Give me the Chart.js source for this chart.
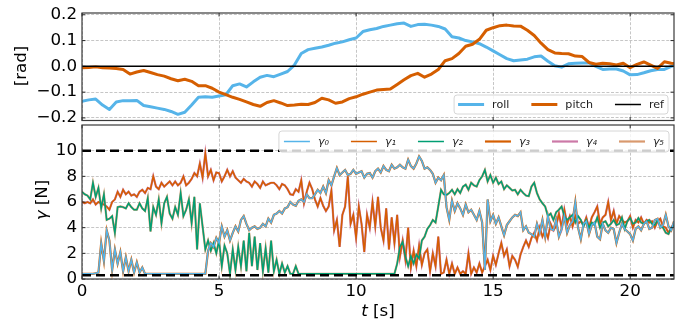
<!DOCTYPE html>
<html>
<head>
<meta charset="utf-8">
<script src="https://cdn.jsdelivr.net/npm/chart.js@4.4.1/dist/chart.umd.min.js"></script>
<style>
  body { margin: 0; background: #fff; }
  #wrap { position: relative; width: 691px; height: 325px; }
  #top { position: absolute; left: 0; top: 0; }
  #bot { position: absolute; left: 0; top: 124px; }
</style>
</head>
<body>
<div id="wrap">
  <canvas id="top" width="691" height="124" style="width:691px;height:124px"></canvas>
  <canvas id="bot" width="691" height="201" style="width:691px;height:201px"></canvas>
</div>
<script>
// ---- data ----
const tMax = 21.6;

// body angles [rad], sampled every 0.25 s
const angleStep = 0.25;
const roll = [
  -0.135, -0.13, -0.127, -0.15,
  -0.167, -0.138, -0.133, -0.133,
  -0.132, -0.152, -0.157, -0.162,
  -0.167, -0.175, -0.186, -0.178,
  -0.15, -0.12, -0.118, -0.12,
  -0.115, -0.11, -0.075, -0.068,
  -0.08, -0.06, -0.042, -0.035,
  -0.04, -0.03, -0.02, 0.005,
  0.05, 0.065, 0.07, 0.075,
  0.082, 0.09, 0.095, 0.103,
  0.11, 0.135, 0.142, 0.147,
  0.155, 0.16, 0.165, 0.168,
  0.155, 0.162, 0.163, 0.16,
  0.155, 0.145, 0.115, 0.11,
  0.1, 0.095, 0.088, 0.075,
  0.06, 0.045, 0.03, 0.022,
  0.025, 0.028, 0.037, 0.04,
  0.02, 0.002, -0.003, 0.01,
  0.012, 0.013, 0.013, 0.0,
  -0.012, -0.01, -0.01, -0.018,
  -0.033, -0.032, -0.025, -0.017,
  -0.012, -0.012, 0.0, 0.005
];
const pitch = [
  -0.005, -0.004, -0.002, -0.005,
  -0.006, -0.008, -0.012, -0.03,
  -0.022, -0.016, -0.024, -0.032,
  -0.038, -0.048, -0.056, -0.05,
  -0.058, -0.075, -0.075, -0.085,
  -0.1, -0.11, -0.12, -0.128,
  -0.138, -0.148, -0.155, -0.14,
  -0.133, -0.142, -0.152, -0.15,
  -0.147, -0.148, -0.14, -0.124,
  -0.13, -0.143, -0.138, -0.125,
  -0.118, -0.108, -0.1, -0.092,
  -0.09, -0.088, -0.07, -0.052,
  -0.036, -0.027, -0.042, -0.03,
  -0.012, 0.022, 0.03, 0.05,
  0.078, 0.086, 0.105, 0.14,
  0.15, 0.158, 0.16, 0.157,
  0.156, 0.14, 0.12, 0.09,
  0.065, 0.052, 0.05, 0.049,
  0.04, 0.038, 0.015, 0.008,
  0.012, 0.01, 0.005, 0.012,
  -0.005, 0.008, 0.017, 0.005,
  -0.008, 0.018, 0.012, 0.01
];
const refLevel = 0;

// contact forces [N], sampled every 0.1 s (one row per second)
const forceStep = 0.1;
const gamma0 = [
  0.4, 0.4, 0.4, 0.4, 0.4, 0.45, 0.5, 2.8, 1.4, 3.8,
  3.0, 0.7, 2.3, 1.2, 2.1, 0.6, 1.7, 0.6, 1.5, 0.5,
  1.3, 0.5, 0.9, 0.4, 0.4, 0.4, 0.4, 0.4, 0.4, 0.4,
  0.4, 0.4, 0.4, 0.4, 0.4, 0.4, 0.4, 0.4, 0.4, 0.4,
  0.4, 0.4, 0.4, 0.4, 0.4, 0.4, 2.2, 2.8, 2.5, 3.2,
  2.8, 4.1, 3.3, 3.8, 3.0, 3.6, 4.1, 3.7, 4.6, 4.9,
  4.3, 3.8, 4.0, 4.1, 3.9, 4.0, 4.3, 4.1, 4.7, 4.4,
  5.0, 5.1, 5.3, 5.1, 5.5, 5.6, 6.0, 5.8, 5.7, 6.1,
  6.2, 6.0, 6.6, 6.3, 6.3, 6.6, 6.95, 6.7, 7.2, 6.7,
  7.7, 7.3, 8.0, 8.65, 8.1, 8.3, 8.5, 8.1, 8.2, 8.5,
  8.2, 8.3, 8.4, 7.9, 8.2, 8.25, 7.9, 8.4, 8.6, 8.3,
  8.8, 8.5, 8.4, 8.9, 8.6, 8.7, 8.9, 8.7, 8.6, 9.3,
  8.8, 8.6, 9.0, 9.55, 9.2, 8.6, 8.7, 8.5, 8.2, 7.5,
  7.9, 7.7, 8.1, 5.6, 4.6, 6.1, 5.3, 5.9, 5.5, 5.0,
  5.8, 5.2, 5.4, 5.0, 4.6, 5.3, 4.4, 0.7, 6.2, 4.5,
  5.0, 4.3, 4.8, 4.1, 3.4, 4.2, 4.5, 4.8, 5.0, 4.9,
  5.2, 3.8, 4.1, 3.6, 3.5, 3.3, 4.3, 3.6, 4.6, 3.3,
  4.9, 3.9, 3.8, 4.6, 3.3, 3.9, 4.9, 3.6, 4.2, 4.5,
  6.0, 4.0, 3.1, 4.3, 4.5, 3.5, 4.2, 4.4, 3.3, 3.1,
  4.3, 3.8, 3.6, 4.0, 3.9, 2.8, 3.6, 4.3, 3.9, 3.7,
  3.5, 3.0, 3.9, 4.1, 3.8, 4.3, 4.5, 3.9, 4.0, 4.6,
  4.7, 4.0, 4.2, 5.0, 4.1, 3.8, 4.5
];
const gamma1 = [
  6.0, 5.9, 6.0, 5.9, 6.2, 5.8, 6.0, 5.9, 5.8, 5.65,
  5.4, 6.0, 6.2, 6.8, 6.4, 6.95, 6.6, 6.8, 6.5, 6.6,
  6.4, 6.8, 6.95, 6.7, 7.1, 7.0, 8.0, 7.2, 7.0, 7.5,
  7.2, 7.4, 7.6, 7.3, 7.6, 7.3, 7.5, 8.0, 7.3, 7.5,
  7.8, 8.25, 8.0, 9.0, 7.9, 9.8, 8.0, 8.5, 7.7, 8.3,
  8.25, 7.6, 8.0, 8.5, 8.0, 8.4, 7.9, 7.7, 7.5, 7.8,
  7.6, 7.5, 7.2, 7.6, 7.4, 7.1, 7.6, 7.3, 7.4, 7.5,
  7.5, 7.3, 7.0, 7.4, 7.3, 7.0, 6.6, 6.55, 7.0, 6.8,
  7.7, 5.9, 6.8, 7.5, 7.0, 6.2, 5.65, 6.3, 5.7, 5.3,
  5.65, 6.9, 3.8, 4.6, 2.5, 5.0, 5.65, 8.0, 4.3, 5.0,
  3.2, 5.65, 4.3, 2.1, 5.0, 4.0, 6.0, 4.1, 6.4, 4.0,
  3.0, 5.5, 2.3, 4.8, 2.8, 5.0, 1.75, 3.0, 1.5, 4.0,
  0.9, 2.2, 1.0, 2.6, 1.1, 2.0, 2.3, 0.6, 2.0, 1.0,
  3.3, 0.4, 0.5, 1.5, 0.4, 1.2, 0.4, 0.9, 0.4, 0.6,
  0.4, 2.0, 0.4, 0.9, 0.5, 1.2, 0.5, 1.0, 1.5, 0.7,
  1.8, 1.1, 2.0, 2.8, 1.8, 2.3, 1.0, 1.8, 1.5, 0.95,
  1.9, 2.5, 3.0, 2.5, 3.2, 3.6, 3.0, 4.0, 3.3, 3.8,
  3.2, 4.3, 3.8, 4.1, 5.1, 4.0, 5.4, 4.3, 4.9, 4.1,
  4.9, 4.3, 4.5, 4.2, 4.8, 4.0, 4.8, 5.2, 5.65, 4.3,
  4.8, 5.0, 6.0, 4.6, 5.3, 4.3, 4.9, 4.6, 4.4, 4.5,
  4.9, 4.0, 4.6, 4.4, 4.8, 4.3, 4.6, 4.4, 4.5, 4.0,
  4.5, 4.7, 4.1, 4.0, 3.6, 4.0, 4.3
];
const gamma2 = [
  6.8, 6.6, 6.5, 6.2, 7.5, 6.4, 7.1, 5.5, 6.6, 4.6,
  4.7, 4.9, 3.6, 5.6, 5.65, 5.6, 5.5, 5.9, 5.6, 5.4,
  5.4, 5.9, 5.5, 5.3, 6.3, 3.7, 5.6, 5.0, 6.2, 4.35,
  5.9, 6.4, 5.1, 4.7, 5.6, 5.0, 6.7, 4.9, 5.4, 6.2,
  4.35, 6.4, 2.3, 5.9, 4.1, 2.3, 3.0, 2.2, 2.8, 2.0,
  3.0, 1.0, 2.6, 2.0, 0.4, 2.3, 0.7, 2.5, 1.0, 3.0,
  0.6, 3.6, 1.0, 3.3, 0.7, 2.8, 0.6, 2.4, 0.5, 3.0,
  0.6, 1.5, 0.4, 1.2, 0.5, 1.0, 0.4, 0.4, 1.0, 0.4,
  0.4, 0.4, 0.4, 0.4, 0.4, 0.4, 0.4, 0.4, 0.4, 0.4,
  0.4, 0.4, 0.4, 0.4, 0.4, 0.4, 0.4, 0.4, 0.4, 0.4,
  0.4, 0.4, 0.4, 0.4, 0.4, 0.4, 0.4, 0.4, 0.4, 0.4,
  0.4, 0.4, 0.4, 0.4, 0.4, 1.2, 2.5, 2.9, 1.75, 1.0,
  1.8, 1.2, 1.9, 1.6, 3.0, 3.3, 3.9, 4.2, 4.6, 4.4,
  5.65, 6.95, 6.6, 6.55, 6.7, 6.95, 6.6, 7.0, 6.7, 7.2,
  7.35, 6.95, 7.5, 7.3, 7.2, 7.7, 8.0, 8.5, 7.6, 8.1,
  7.5, 7.9, 7.4, 7.6, 7.0, 7.3, 7.1, 6.9, 6.95, 6.6,
  6.95, 6.7, 6.5, 6.45, 7.2, 7.5, 6.7, 6.2, 5.9, 5.65,
  4.9, 5.1, 4.6, 5.2, 5.4, 5.65, 4.9, 4.6, 4.8, 5.0,
  4.4, 4.9, 4.6, 4.1, 4.6, 4.0, 4.4, 4.2, 4.8, 4.0,
  4.4, 4.5, 4.1, 4.3, 4.6, 4.2, 4.3, 4.8, 3.9, 4.5,
  4.75, 4.3, 4.4, 4.75, 4.4, 4.3, 4.5, 4.6, 4.3, 4.2,
  4.6, 4.1, 4.0, 3.6, 3.5, 4.0, 4.2
];
// the other three traces lie almost exactly under the first three
const gamma3 = [
  0.4, 0.4, 0.4, 0.4, 0.4, 0.45, 0.5, 2.8, 1.4, 3.8,
  3.0, 0.7, 2.3, 1.2, 2.1, 0.6, 1.7, 0.6, 1.5, 0.5,
  1.3, 0.5, 0.9, 0.4, 0.4, 0.4, 0.4, 0.4, 0.4, 0.4,
  0.4, 0.4, 0.4, 0.4, 0.4, 0.4, 0.4, 0.4, 0.4, 0.4,
  0.4, 0.4, 0.4, 0.4, 0.4, 0.4, 2.2, 2.8, 2.5, 3.2,
  2.8, 4.1, 3.3, 3.8, 3.0, 3.6, 4.1, 3.7, 4.6, 4.9,
  4.3, 3.8, 4.0, 4.1, 3.9, 4.0, 4.3, 4.1, 4.7, 4.4,
  5.0, 5.1, 5.3, 5.1, 5.5, 5.6, 6.0, 5.8, 5.7, 6.1,
  6.2, 6.0, 6.6, 6.3, 6.3, 6.6, 6.95, 6.7, 7.2, 6.7,
  7.7, 7.3, 8.0, 8.65, 8.1, 8.3, 8.5, 8.1, 8.2, 8.5,
  8.2, 8.3, 8.4, 7.9, 8.2, 8.25, 7.9, 8.4, 8.6, 8.3,
  8.8, 8.5, 8.4, 8.9, 8.6, 8.7, 8.9, 8.7, 8.6, 9.3,
  8.8, 8.6, 9.0, 9.55, 9.2, 8.6, 8.7, 8.5, 8.2, 7.5,
  7.9, 7.7, 8.1, 5.6, 4.6, 6.1, 5.3, 5.9, 5.5, 5.0,
  5.8, 5.2, 5.4, 5.0, 4.6, 5.3, 4.4, 0.7, 6.2, 4.5,
  5.0, 4.3, 4.8, 4.1, 3.4, 4.2, 4.5, 4.8, 5.0, 4.9,
  5.2, 3.8, 4.1, 3.6, 3.5, 3.3, 4.3, 3.6, 4.6, 3.3,
  4.9, 3.9, 3.8, 4.6, 3.3, 3.9, 4.9, 3.6, 4.2, 4.5,
  6.0, 4.0, 3.1, 4.3, 4.5, 3.5, 4.2, 4.4, 3.3, 3.1,
  4.3, 3.8, 3.6, 4.0, 3.9, 2.8, 3.6, 4.3, 3.9, 3.7,
  3.5, 3.0, 3.9, 4.1, 3.8, 4.3, 4.5, 3.9, 4.0, 4.6,
  4.7, 4.0, 4.2, 5.0, 4.1, 3.8, 4.5
];
const gamma4 = [
  6.0, 5.9, 6.0, 5.9, 6.2, 5.8, 6.0, 5.9, 5.8, 5.65,
  5.4, 6.0, 6.2, 6.8, 6.4, 6.95, 6.6, 6.8, 6.5, 6.6,
  6.4, 6.8, 6.95, 6.7, 7.1, 7.0, 8.0, 7.2, 7.0, 7.5,
  7.2, 7.4, 7.6, 7.3, 7.6, 7.3, 7.5, 8.0, 7.3, 7.5,
  7.8, 8.25, 8.0, 9.0, 7.9, 9.8, 8.0, 8.5, 7.7, 8.3,
  8.25, 7.6, 8.0, 8.5, 8.0, 8.4, 7.9, 7.7, 7.5, 7.8,
  7.6, 7.5, 7.2, 7.6, 7.4, 7.1, 7.6, 7.3, 7.4, 7.5,
  7.5, 7.3, 7.0, 7.4, 7.3, 7.0, 6.6, 6.55, 7.0, 6.8,
  7.7, 5.9, 6.8, 7.5, 7.0, 6.2, 5.65, 6.3, 5.7, 5.3,
  5.65, 6.9, 3.8, 4.6, 2.5, 5.0, 5.65, 8.0, 4.3, 5.0,
  3.2, 5.65, 4.3, 2.1, 5.0, 4.0, 6.0, 4.1, 6.4, 4.0,
  3.0, 5.5, 2.3, 4.8, 2.8, 5.0, 1.75, 3.0, 1.5, 4.0,
  0.9, 2.2, 1.0, 2.6, 1.1, 2.0, 2.3, 0.6, 2.0, 1.0,
  3.3, 0.4, 0.5, 1.5, 0.4, 1.2, 0.4, 0.9, 0.4, 0.6,
  0.4, 2.0, 0.4, 0.9, 0.5, 1.2, 0.5, 1.0, 1.5, 0.7,
  1.8, 1.1, 2.0, 2.8, 1.8, 2.3, 1.0, 1.8, 1.5, 0.95,
  1.9, 2.5, 3.0, 2.5, 3.2, 3.6, 3.0, 4.0, 3.3, 3.8,
  3.2, 4.3, 3.8, 4.1, 5.1, 4.0, 5.4, 4.3, 4.9, 4.1,
  4.9, 4.3, 4.5, 4.2, 4.8, 4.0, 4.8, 5.2, 5.65, 4.3,
  4.8, 5.0, 6.0, 4.6, 5.3, 4.3, 4.9, 4.6, 4.4, 4.5,
  4.9, 4.0, 4.6, 4.4, 4.8, 4.3, 4.6, 4.4, 4.5, 4.0,
  4.5, 4.7, 4.1, 4.0, 3.6, 4.0, 4.3
];
const gamma5 = [
  6.8, 6.6, 6.5, 6.2, 7.5, 6.4, 7.1, 5.5, 6.6, 4.6,
  4.7, 4.9, 3.6, 5.6, 5.65, 5.6, 5.5, 5.9, 5.6, 5.4,
  5.4, 5.9, 5.5, 5.3, 6.3, 3.7, 5.6, 5.0, 6.2, 4.35,
  5.9, 6.4, 5.1, 4.7, 5.6, 5.0, 6.7, 4.9, 5.4, 6.2,
  4.35, 6.4, 2.3, 5.9, 4.1, 2.3, 3.0, 2.2, 2.8, 2.0,
  3.0, 1.0, 2.6, 2.0, 0.4, 2.3, 0.7, 2.5, 1.0, 3.0,
  0.6, 3.6, 1.0, 3.3, 0.7, 2.8, 0.6, 2.4, 0.5, 3.0,
  0.6, 1.5, 0.4, 1.2, 0.5, 1.0, 0.4, 0.4, 1.0, 0.4,
  0.4, 0.4, 0.4, 0.4, 0.4, 0.4, 0.4, 0.4, 0.4, 0.4,
  0.4, 0.4, 0.4, 0.4, 0.4, 0.4, 0.4, 0.4, 0.4, 0.4,
  0.4, 0.4, 0.4, 0.4, 0.4, 0.4, 0.4, 0.4, 0.4, 0.4,
  0.4, 0.4, 0.4, 0.4, 0.4, 1.2, 2.5, 2.9, 1.75, 1.0,
  1.8, 1.2, 1.9, 1.6, 3.0, 3.3, 3.9, 4.2, 4.6, 4.4,
  5.65, 6.95, 6.6, 6.55, 6.7, 6.95, 6.6, 7.0, 6.7, 7.2,
  7.35, 6.95, 7.5, 7.3, 7.2, 7.7, 8.0, 8.5, 7.6, 8.1,
  7.5, 7.9, 7.4, 7.6, 7.0, 7.3, 7.1, 6.9, 6.95, 6.6,
  6.95, 6.7, 6.5, 6.45, 7.2, 7.5, 6.7, 6.2, 5.9, 5.65,
  4.9, 5.1, 4.6, 5.2, 5.4, 5.65, 4.9, 4.6, 4.8, 5.0,
  4.4, 4.9, 4.6, 4.1, 4.6, 4.0, 4.4, 4.2, 4.8, 4.0,
  4.4, 4.5, 4.1, 4.3, 4.6, 4.2, 4.3, 4.8, 3.9, 4.5,
  4.75, 4.3, 4.4, 4.75, 4.4, 4.3, 4.5, 4.6, 4.3, 4.2,
  4.6, 4.1, 4.0, 3.6, 3.5, 4.0, 4.2
];
const forceMax = 10;
const forceMin = 0.3;

const timeTicks = [0, 5, 10, 15, 20];
const angleTicks = [-0.2, -0.1, 0, 0.1, 0.2];
const forceTicks = [0, 2, 4, 6, 8, 10];

// ---- helpers ----
const FONT = "'DejaVu Sans', sans-serif";
const BLUE = '#56B4E9', VERM = '#D55E00', GREEN = '#009E73', PINK = '#CC79A7', TAN = '#D9996E';

const toPoints = (vals, step) => vals.map((v, i) => ({ x: Math.round(i * step * 100) / 100, y: v }));
const flat = (v) => [{ x: 0, y: v }, { x: tMax, y: v }];
const fmtAngle = (v) => (v < -1e-9 ? '\u2212' : '') + Math.abs(v).toFixed(1);

function gridOpts() {
  return { color: '#b8b8b8', lineWidth: 0.8, drawTicks: false };
}
function borderOpts() {
  return { display: false, dash: [3, 1.6] };
}

function roundRectPath(ctx, x, y, w, h, r) {
  ctx.beginPath();
  ctx.moveTo(x + r, y);
  ctx.lineTo(x + w - r, y);
  ctx.arcTo(x + w, y, x + w, y + r, r);
  ctx.lineTo(x + w, y + h - r);
  ctx.arcTo(x + w, y + h, x + w - r, y + h, r);
  ctx.lineTo(x + r, y + h);
  ctx.arcTo(x, y + h, x, y + h - r, r);
  ctx.lineTo(x, y + r);
  ctx.arcTo(x, y, x + r, y, r);
  ctx.closePath();
}

function drawLegend(ctx, chart, lg) {
  const items = chart.data.datasets.filter(d => d.label);
  ctx.save();
  ctx.font = lg.font;
  const widths = items.map(d => ctx.measureText(d.label).width);
  let w = lg.pad * 2;
  items.forEach((d, i) => { w += lg.handle + lg.gap + widths[i] + (i ? lg.col : 0); });
  const x0 = lg.right - w;
  roundRectPath(ctx, x0, lg.top, w, lg.height, 3);
  ctx.fillStyle = 'rgba(255,255,255,0.8)';
  ctx.fill();
  ctx.strokeStyle = '#d6d6d6';
  ctx.lineWidth = 1;
  ctx.stroke();
  const cy = lg.top + lg.height / 2;
  let x = x0 + lg.pad;
  ctx.textBaseline = 'middle';
  ctx.textAlign = 'left';
  items.forEach((d, i) => {
    ctx.strokeStyle = d.borderColor;
    ctx.lineWidth = d.borderWidth;
    ctx.setLineDash([]);
    ctx.beginPath();
    ctx.moveTo(x, cy);
    ctx.lineTo(x + lg.handle, cy);
    ctx.stroke();
    x += lg.handle + lg.gap;
    ctx.fillStyle = '#222';
    ctx.fillText(d.label, x, cy + 0.5);
    x += widths[i] + lg.col;
  });
  ctx.restore();
}

function drawTitle(ctx, t) {
  ctx.save();
  ctx.translate(t.x, t.y);
  if (t.rotate) ctx.rotate(-Math.PI / 2);
  ctx.fillStyle = '#000';
  ctx.textBaseline = 'middle';
  ctx.textAlign = 'left';
  const fonts = t.parts.map(p => (p.italic ? 'italic ' : '') + '16.7px ' + FONT);
  let total = 0;
  const ws = t.parts.map((p, i) => { ctx.font = fonts[i]; const w = ctx.measureText(p.text).width; total += w; return w; });
  let x = -total / 2;
  t.parts.forEach((p, i) => { ctx.font = fonts[i]; ctx.fillText(p.text, x, 0); x += ws[i]; });
  ctx.restore();
}

function decor(opts) {
  return {
    id: 'decor_' + opts.name,
    afterDatasetsDraw(chart) {
      const { ctx, chartArea: a, scales } = chart;
      ctx.save();
      ctx.setLineDash([]);
      ctx.strokeStyle = '#000';
      ctx.lineWidth = 0.8;
      ctx.beginPath();
      timeTicks.forEach(v => {
        const px = scales.x.getPixelForValue(v);
        ctx.moveTo(px, a.bottom); ctx.lineTo(px, a.bottom - 3.5);
        ctx.moveTo(px, a.top); ctx.lineTo(px, a.top + 3.5);
      });
      opts.yTicks.forEach(v => {
        const py = scales.y.getPixelForValue(v);
        ctx.moveTo(a.left, py); ctx.lineTo(a.left + 3.5, py);
        ctx.moveTo(a.right, py); ctx.lineTo(a.right - 3.5, py);
      });
      ctx.stroke();
      ctx.strokeStyle = '#3a3a3a';
      ctx.lineWidth = 1.2;
      ctx.strokeRect(a.left, a.top, a.right - a.left, a.bottom - a.top);
      ctx.restore();
      drawLegend(ctx, chart, opts.legend);
      opts.titles.forEach(t => drawTitle(ctx, t));
    }
  };
}

function fixTicks(list) {
  return (s) => { s.ticks = list.map(v => ({ value: v })); };
}

Chart.defaults.font.family = FONT;
Chart.defaults.color = '#000';

// ---- top panel: roll / pitch ----
new Chart(document.getElementById('top'), {
  type: 'line',
  data: {
    datasets: [
      { label: 'roll', data: toPoints(roll, angleStep), borderColor: BLUE, borderWidth: 3, order: 2 },
      { label: 'pitch', data: toPoints(pitch, angleStep), borderColor: VERM, borderWidth: 3, order: 1 },
      { label: 'ref', data: flat(refLevel), borderColor: '#000', borderWidth: 1.5, order: 0 }
    ]
  },
  options: {
    responsive: false,
    animation: false,
    events: [],
    layout: { padding: { top: 13, right: 17, left: 0, bottom: 0 } },
    elements: { point: { radius: 0 }, line: { tension: 0, borderJoinStyle: 'round', borderCapStyle: 'round' } },
    plugins: { legend: { display: false }, tooltip: { enabled: false } },
    scales: {
      x: {
        type: 'linear', min: 0, max: tMax,
        afterBuildTicks: fixTicks(timeTicks),
        afterFit: s => { s.height = 3.5; s.paddingLeft = 0; s.paddingRight = 0; },
        ticks: { display: false },
        grid: gridOpts(), border: borderOpts()
      },
      y: {
        type: 'linear', min: -0.21, max: 0.207,
        afterBuildTicks: fixTicks(angleTicks),
        afterFit: s => { s.width = 82; s.paddingTop = 0; s.paddingBottom = 0; },
        ticks: { font: { size: 16.7 }, color: '#000', padding: 5, autoSkip: false, callback: v => fmtAngle(v) },
        grid: gridOpts(), border: borderOpts()
      }
    }
  },
  plugins: [decor({
    name: 'top',
    yTicks: angleTicks,
    legend: { right: 668, top: 95, height: 19, pad: 4, handle: 26, gap: 8, col: 22, font: '11.1px ' + FONT },
    titles: [{ x: 22, y: 66, rotate: true, parts: [{ text: '[rad]' }] }]
  })]
});

// ---- bottom panel: contact forces ----
const thin = 1.5, thick = 2.2;
new Chart(document.getElementById('bot'), {
  type: 'line',
  data: {
    datasets: [
      { label: 'γ\u2080', data: toPoints(gamma0, forceStep), borderColor: BLUE, borderWidth: thin, order: 1 },
      { label: 'γ\u2081', data: toPoints(gamma1, forceStep), borderColor: VERM, borderWidth: thin, order: 3 },
      { label: 'γ\u2082', data: toPoints(gamma2, forceStep), borderColor: GREEN, borderWidth: thin, order: 2 },
      { label: 'γ\u2083', data: toPoints(gamma3, forceStep), borderColor: VERM, borderWidth: thick, order: 6 },
      { label: 'γ\u2084', data: toPoints(gamma4, forceStep), borderColor: PINK, borderWidth: thick, order: 4 },
      { label: 'γ\u2085', data: toPoints(gamma5, forceStep), borderColor: TAN, borderWidth: thick, order: 5 },
      { data: flat(forceMax), borderColor: '#000', borderWidth: 2.5, borderDash: [9, 5], order: 0 },
      { data: flat(forceMin), borderColor: '#000', borderWidth: 2.5, borderDash: [9, 5], order: 0 }
    ]
  },
  options: {
    responsive: false,
    animation: false,
    events: [],
    layout: { padding: { top: 1, right: 17, left: 0, bottom: 0 } },
    elements: { point: { radius: 0 }, line: { tension: 0 } },
    plugins: { legend: { display: false }, tooltip: { enabled: false } },
    scales: {
      x: {
        type: 'linear', min: 0, max: tMax,
        afterBuildTicks: fixTicks(timeTicks),
        afterFit: s => { s.height = 46; s.paddingLeft = 0; s.paddingRight = 0; },
        ticks: { font: { size: 16.7 }, color: '#000', padding: 3, autoSkip: false, maxRotation: 0 },
        grid: gridOpts(), border: borderOpts()
      },
      y: {
        type: 'linear', min: 0, max: 12,
        afterBuildTicks: fixTicks(forceTicks),
        afterFit: s => { s.width = 82; s.paddingTop = 0; s.paddingBottom = 0; },
        ticks: { font: { size: 16.7 }, color: '#000', padding: 5, autoSkip: false },
        grid: gridOpts(), border: borderOpts()
      }
    }
  },
  plugins: [decor({
    name: 'bot',
    yTicks: forceTicks,
    legend: { right: 669, top: 7, height: 21, pad: 5, handle: 26, gap: 8, col: 22, font: 'italic 11.1px ' + FONT },
    titles: [
      { x: 43, y: 76, rotate: true, parts: [{ text: 'γ', italic: true }, { text: ' [N]' }] },
      { x: 378, y: 188, parts: [{ text: 't', italic: true }, { text: ' [s]' }] }
    ]
  })]
});
</script>
</body>
</html>
